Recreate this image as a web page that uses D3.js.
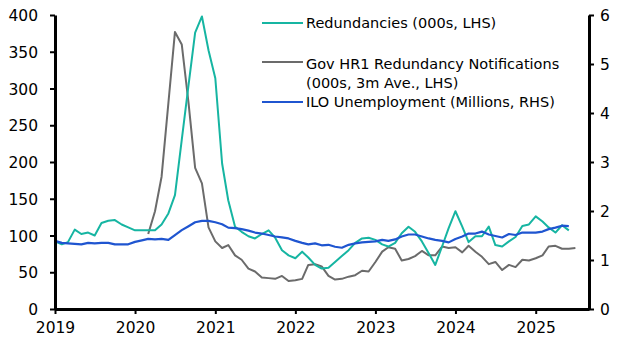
<!DOCTYPE html>
<html>
<head>
<meta charset="utf-8">
<script src="https://cdn.jsdelivr.net/npm/d3@7"></script>
<style>
  body { margin: 0; background: #fff; }
  svg text { font-family: "DejaVu Sans", "Noto Sans", sans-serif; fill: #000; }
  .tick text { font-size: 15.5px; }
  .legend text { font-size: 14.5px; }
</style>
</head>
<body>
<div id="chart"></div>
<script>
// monthly data, Jan 2019 onwards
var redundancies = [92, 88, 91, 108, 102, 104, 100, 117, 120, 121, 115, 111,
    107, 107, 107, 107, 115, 130, 155, 230, 305, 376, 398, 352,
    314, 198, 148, 112, 105, 99, 96, 102, 107, 97, 80, 73,
    69, 78, 70, 60, 55, 56, 64, 72, 80, 90, 96, 97,
    94, 88, 85, 90, 103, 112, 105, 92, 76, 60, 85, 110,
    133, 112, 91, 99, 99, 112, 87, 85, 92, 98, 113, 115,
    126, 119, 111, 104, 114, 107];
// HR1 notifications start Mar 2020
var hr1Start = 14;
var hr1 = [102, 133, 180, 280, 377, 360, 280, 192, 171, 111,
    92, 83, 87, 73, 67, 55, 51, 43, 42, 41, 45, 38,
    39, 41, 60, 61, 58, 45, 40, 41, 44, 46, 52, 51,
    64, 78, 84, 82, 66, 68, 72, 79, 73, 73, 85, 83,
    84, 77, 86, 78, 71, 61, 64, 53, 60, 57, 67, 66,
    69, 73, 85, 86, 82, 82, 83];
var unemployment = [1.39, 1.35, 1.34, 1.33, 1.32, 1.35, 1.34, 1.35, 1.35, 1.32, 1.32, 1.32,
    1.37, 1.40, 1.43, 1.42, 1.43, 1.41, 1.51, 1.61, 1.69, 1.77, 1.80, 1.80,
    1.77, 1.73, 1.66, 1.65, 1.63, 1.60, 1.56, 1.54, 1.51, 1.48, 1.46, 1.44,
    1.39, 1.35, 1.32, 1.34, 1.30, 1.31, 1.27, 1.25, 1.31, 1.34, 1.36, 1.37,
    1.38, 1.41, 1.39, 1.42, 1.48, 1.52, 1.52, 1.48, 1.44, 1.41, 1.39, 1.36,
    1.43, 1.48, 1.54, 1.54, 1.58, 1.52, 1.49, 1.46, 1.53, 1.51, 1.56, 1.56,
    1.56, 1.58, 1.63, 1.66, 1.70, 1.69];

var years = [2019, 2020, 2021, 2022, 2023, 2024, 2025];
var leftTicks = [0, 50, 100, 150, 200, 250, 300, 350, 400];
var rightTicks = [0, 1, 2, 3, 4, 5, 6];

var seriesNames = ["Redundancies (000s, LHS)",
    "Gov HR1 Redundancy Notifications|(000s, 3m Ave., LHS)",
    "ILO Unemployment (Millions, RHS)"];
var seriesColors = ["#16b5a2", "#6b6b6b", "#1f55d0"];

var cfg = {
    w: 627, h: 352,
    mLeft: 55, mRight: 38, mTop: 15, mBottom: 43
};

var width = cfg.w - cfg.mLeft - cfg.mRight,
    height = cfg.h - cfg.mTop - cfg.mBottom;

function monthDate(i) { return new Date(2019, i, 1); }

var x = d3.scaleTime()
    .domain([new Date(2019, 0, 1), new Date(2025, 8, 1)])
    .range([0, width]);
var yL = d3.scaleLinear().domain([0, 400]).range([height, 0]);
var yR = d3.scaleLinear().domain([0, 6]).range([height, 0]);

var svg = d3.select("#chart").append("svg")
    .attr("width", cfg.w)
    .attr("height", cfg.h)
    .append("g")
    .attr("transform", "translate(" + cfg.mLeft + "," + cfg.mTop + ")");

// lines
var lineL = d3.line()
    .x(function (d) { return x(d.date); })
    .y(function (d) { return yL(d.v); });
var lineR = d3.line()
    .x(function (d) { return x(d.date); })
    .y(function (d) { return yR(d.v); });

var redData = redundancies.map(function (v, i) { return { date: monthDate(i), v: v }; });
var hr1Data = hr1.map(function (v, i) { return { date: monthDate(hr1Start + i), v: v }; });
var uneData = unemployment.map(function (v, i) { return { date: monthDate(i), v: v }; });

svg.append("path").datum(hr1Data)
    .attr("fill", "none").attr("stroke", seriesColors[1]).attr("stroke-width", 2)
    .attr("stroke-linejoin", "round")
    .attr("d", lineL);
svg.append("path").datum(redData)
    .attr("fill", "none").attr("stroke", seriesColors[0]).attr("stroke-width", 2)
    .attr("stroke-linejoin", "round")
    .attr("d", lineL);
svg.append("path").datum(uneData)
    .attr("fill", "none").attr("stroke", seriesColors[2]).attr("stroke-width", 2.2)
    .attr("stroke-linejoin", "round")
    .attr("d", lineR);

// axes
function styleAxis(g) {
    g.select(".domain").attr("stroke", "#000").attr("stroke-width", 3);
    g.selectAll(".tick line").attr("stroke", "#000").attr("stroke-width", 2);
}

svg.append("g")
    .classed("xAxis", true)
    .attr("transform", "translate(0," + height + ")")
    .call(d3.axisBottom(x)
        .tickValues(years.map(function (y) { return new Date(y, 0, 1); }))
        .tickFormat(d3.timeFormat("%Y"))
        .tickSize(5).tickSizeOuter(0).tickPadding(8))
    .call(styleAxis);

svg.append("g")
    .classed("yAxis", true)
    .call(d3.axisLeft(yL).tickValues(leftTicks).tickSize(5).tickSizeOuter(0).tickPadding(12))
    .call(styleAxis);

svg.append("g")
    .classed("yAxis2", true)
    .attr("transform", "translate(" + width + ",0)")
    .call(d3.axisRight(yR).tickValues(rightTicks).tickFormat(d3.format("d"))
        .tickSize(5).tickSizeOuter(0).tickPadding(6))
    .call(styleAxis);

svg.selectAll(".yAxis .tick text, .yAxis2 .tick text").attr("dy", "0.36em");

// legend
var legendY = [23, 64, 102];
var legendLineY = [23, 62, 102];
var legend = svg.append("g").attr("class", "legend")
    .attr("transform", "translate(" + (-cfg.mLeft) + "," + (-cfg.mTop) + ")");

seriesNames.forEach(function (name, i) {
    legend.append("line")
        .attr("x1", 262).attr("x2", 303)
        .attr("y1", legendLineY[i]).attr("y2", legendLineY[i])
        .attr("stroke", seriesColors[i]).attr("stroke-width", 2);
    var parts = name.split("|");
    parts.forEach(function (p, j) {
        legend.append("text")
            .attr("x", 306)
            .attr("y", legendY[i] + j * 19)
            .attr("dy", "0.35em")
            .text(p);
    });
});
</script>
</body>
</html>
